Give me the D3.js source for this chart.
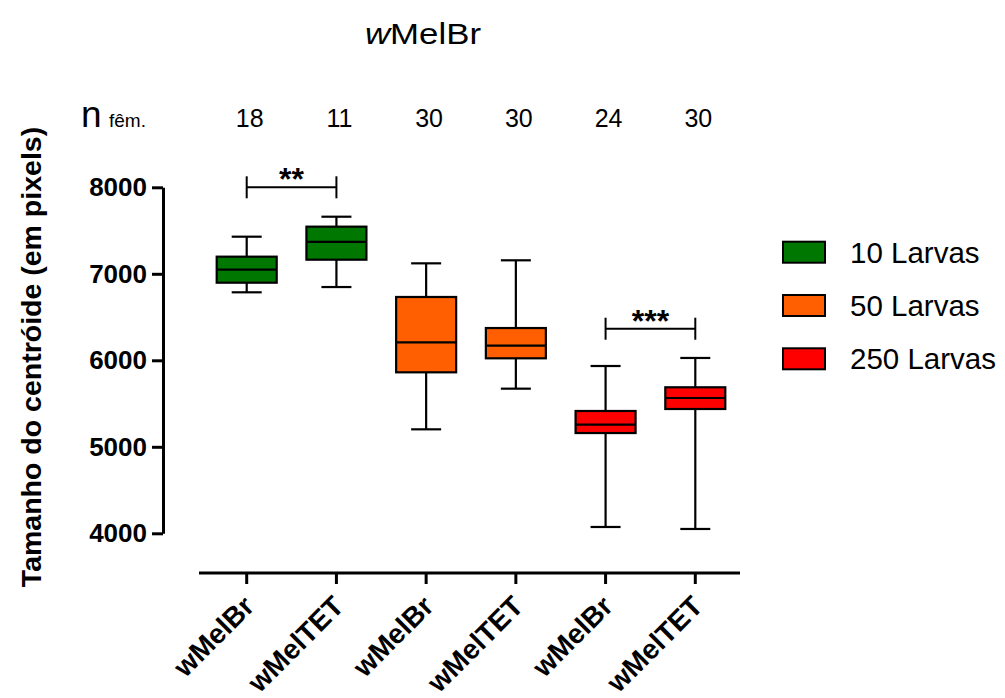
<!DOCTYPE html>
<html>
<head>
<meta charset="utf-8">
<script src="https://cdn.jsdelivr.net/npm/d3@7"></script>
<style>
  html, body { margin: 0; padding: 0; background: #fff; }
  svg { display: block; font-family: Arial, "Liberation Sans", sans-serif; }
</style>
</head>
<body>
<svg id="chart" width="1005" height="698"></svg>
<script>
// ---- data ----
const categories = ["wMelBr", "wMelTET", "wMelBr", "wMelTET", "wMelBr", "wMelTET"];
const groups = ["10 Larvas", "10 Larvas", "50 Larvas", "50 Larvas", "250 Larvas", "250 Larvas"];
const nFemales = [18, 11, 30, 30, 24, 30];
const whiskerLow = [6786, 6847, 5202, 5672, 4073, 4050];
const q1 = [6897, 7163, 5861, 6023, 5159, 5437];
const median = [7048, 7368, 6208, 6169, 5256, 5564];
const q3 = [7198, 7545, 6732, 6373, 5414, 5688];
const whiskerHigh = [7429, 7660, 7121, 7156, 5934, 6027];
const legendLabels = ["10 Larvas", "50 Larvas", "250 Larvas"];
const legendColors = ["#007700", "#FF5F00", "#FF0000"];
const yTicks = [4000, 5000, 6000, 7000, 8000];
const sigFrom = [0, 4];
const sigTo = [1, 5];
const sigValue = [8000, 6365];
const sigLabel = ["**", "***"];

// ---- layout ----
const svg = d3.select("#chart");
const idx = d3.range(categories.length);
const x = d3.scalePoint().domain(idx).range([246.7, 695.3]);
const y = d3.scaleLinear().domain([4000, 8000]).range([533.3, 187.3]);
const color = d3.scaleOrdinal().domain(legendLabels).range(legendColors);
const boxW = 60, capW = 30;

// title
const title = svg.append("text").attr("x", 423).attr("y", 44)
  .attr("text-anchor", "middle").attr("font-size", 30).attr("fill", "#000")
  .attr("textLength", 116).attr("lengthAdjust", "spacingAndGlyphs");
title.append("tspan").attr("font-style", "italic").text("w");
title.append("tspan").text("MelBr");

// n row
svg.append("text").attr("x", 81).attr("y", 127).attr("font-size", 37).text("n");
svg.append("text").attr("x", 109).attr("y", 127).attr("font-size", 19).text("fêm.");
svg.append("g").selectAll("text").data(idx).join("text")
  .attr("x", i => x(i) + 3).attr("y", 127)
  .attr("text-anchor", "middle").attr("font-size", 25)
  .text(i => nFemales[i]);

// y axis
const yAxis = svg.append("g").attr("transform", "translate(163,0)")
  .call(d3.axisLeft(y).tickValues(yTicks).tickSize(11).tickSizeOuter(0).tickPadding(5).tickFormat(d3.format("d")));
yAxis.select(".domain").attr("stroke", "#000").attr("stroke-width", 3);
yAxis.selectAll(".tick line").attr("stroke", "#000").attr("stroke-width", 3);
yAxis.selectAll(".tick text").attr("font-size", 26).attr("font-weight", "bold")
  .attr("fill", "#000").attr("font-family", "Arial, 'Liberation Sans', sans-serif");

// y title
svg.append("text").attr("transform", "translate(41,357) rotate(-90)")
  .attr("text-anchor", "middle").attr("font-size", 28.5).attr("font-weight", "bold")
  .text("Tamanho do centróide (em pixels)");

// x axis
const xAxisG = svg.append("g").attr("transform", "translate(0,573)");
xAxisG.append("line").attr("x1", 199).attr("x2", 740).attr("stroke", "#000").attr("stroke-width", 3);
xAxisG.selectAll(".xt").data(idx).join("line").attr("class", "xt")
  .attr("x1", i => x(i)).attr("x2", i => x(i)).attr("y1", 0).attr("y2", 11)
  .attr("stroke", "#000").attr("stroke-width", 3);
xAxisG.selectAll(".xl").data(idx).join("text").attr("class", "xl")
  .attr("transform", i => `translate(${x(i) + 9},${35}) rotate(-45)`)
  .attr("text-anchor", "end").attr("font-size", 28).attr("font-weight", "bold")
  .text(i => categories[i]);

// boxes
const boxes = svg.append("g").selectAll("g").data(idx).join("g");
boxes.append("line").attr("x1", i => x(i)).attr("x2", i => x(i))
  .attr("y1", i => y(whiskerHigh[i])).attr("y2", i => y(q3[i]))
  .attr("stroke", "#000").attr("stroke-width", 2.2);
boxes.append("line").attr("x1", i => x(i)).attr("x2", i => x(i))
  .attr("y1", i => y(q1[i])).attr("y2", i => y(whiskerLow[i]))
  .attr("stroke", "#000").attr("stroke-width", 2.2);
boxes.append("line").attr("x1", i => x(i) - capW / 2).attr("x2", i => x(i) + capW / 2)
  .attr("y1", i => y(whiskerHigh[i])).attr("y2", i => y(whiskerHigh[i]))
  .attr("stroke", "#000").attr("stroke-width", 2.2);
boxes.append("line").attr("x1", i => x(i) - capW / 2).attr("x2", i => x(i) + capW / 2)
  .attr("y1", i => y(whiskerLow[i])).attr("y2", i => y(whiskerLow[i]))
  .attr("stroke", "#000").attr("stroke-width", 2.2);
boxes.append("rect").attr("x", i => x(i) - boxW / 2).attr("width", boxW)
  .attr("y", i => y(q3[i])).attr("height", i => y(q1[i]) - y(q3[i]))
  .attr("fill", i => color(groups[i])).attr("stroke", "#000").attr("stroke-width", 2.2);
boxes.append("line").attr("x1", i => x(i) - boxW / 2).attr("x2", i => x(i) + boxW / 2)
  .attr("y1", i => y(median[i])).attr("y2", i => y(median[i]))
  .attr("stroke", "#000").attr("stroke-width", 2.2);

// significance brackets
const sig = svg.append("g").selectAll("g").data(d3.range(sigLabel.length)).join("g");
sig.append("line").attr("x1", k => x(sigFrom[k])).attr("x2", k => x(sigTo[k]))
  .attr("y1", k => y(sigValue[k])).attr("y2", k => y(sigValue[k]))
  .attr("stroke", "#000").attr("stroke-width", 2);
sig.append("line").attr("x1", k => x(sigFrom[k])).attr("x2", k => x(sigFrom[k]))
  .attr("y1", k => y(sigValue[k]) - 11).attr("y2", k => y(sigValue[k]) + 11)
  .attr("stroke", "#000").attr("stroke-width", 2);
sig.append("line").attr("x1", k => x(sigTo[k])).attr("x2", k => x(sigTo[k]))
  .attr("y1", k => y(sigValue[k]) - 11).attr("y2", k => y(sigValue[k]) + 11)
  .attr("stroke", "#000").attr("stroke-width", 2);
sig.append("text").attr("x", k => (x(sigFrom[k]) + x(sigTo[k])) / 2)
  .attr("y", k => y(sigValue[k]) + 3).attr("text-anchor", "middle")
  .attr("font-size", 32).attr("font-weight", "bold").text(k => sigLabel[k]);

// legend
const leg = svg.append("g").selectAll("g").data(legendLabels).join("g")
  .attr("transform", (d, i) => `translate(783,${241.7 + i * 53.3})`);
leg.append("rect").attr("width", 42).attr("height", 21)
  .attr("fill", d => color(d)).attr("stroke", "#000").attr("stroke-width", 2);
leg.append("text").attr("x", 67).attr("y", 10.5).attr("dy", "0.36em")
  .attr("font-size", 29.5).text(d => d);
</script>
</body>
</html>
